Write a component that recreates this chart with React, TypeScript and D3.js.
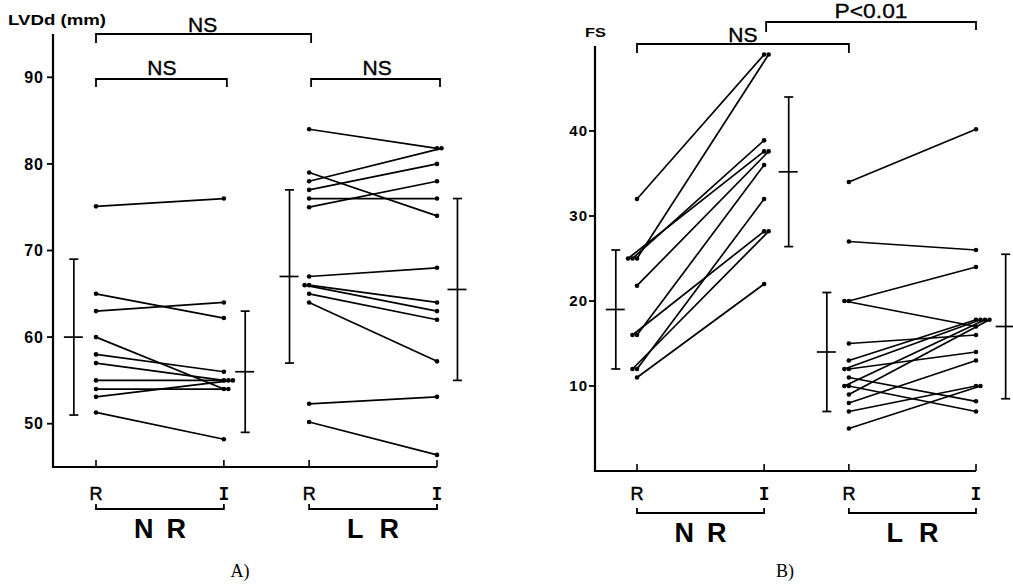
import React from "react";
import * as d3 from "d3";

// ---------- data ----------
const groupNames = ["N R", "L R"];
const timeLabels = ["R", "I"];

// LVDd (mm): paired values, rest (R) -> intervention (I)
const lvddNR_R = [75.1, 65, 63, 60, 58, 57, 55, 54, 53.1, 51.3];
const lvddNR_I = [76, 62.2, 64, 54, 56, 55, 55, 54, 55, 48.2];
const lvddLR_R = [84, 79, 78, 77, 76, 75, 67, 66, 66, 65, 64, 52.3, 50.2];
const lvddLR_I = [81.8, 74, 81.8, 80, 76, 78, 68, 64, 63, 62, 57.2, 53.1, 46.4];

// FS (%)
const fsNR_R = [32, 25, 25, 25, 21.8, 16, 16, 12, 12, 11];
const fsNR_I = [49, 49, 38.9, 37.6, 37.6, 36, 28.2, 32, 28.2, 22];
const fsLR_R = [34, 27, 20, 20, 15, 13, 12, 12, 11, 10, 10, 9, 8, 7, 5];
const fsLR_I = [40.2, 26, 24, 17, 16, 17.8, 14, 17.8, 8.2, 7, 17.8, 17.8, 13, 10, 10];

// mean and SD: NR-R, NR-I, LR-R, LR-I
const lvddMeans = [60, 56, 67, 65.5];
const lvddSDs = [9, 7, 10, 10.5];
const fsMeans = [19, 35.2, 14, 17];
const fsSDs = [7, 8.8, 7, 8.5];

const lvddYTicks = [50, 60, 70, 80, 90];
const fsYTicks = [10, 20, 30, 40];

// ---------- layout ----------
const SANS = "'Liberation Sans', Arial, Helvetica, sans-serif";
const slots = [0, 1.5, 2.5, 4]; // NR-R, NR-I, LR-R, LR-I

type PanelCfg = {
  y: d3.ScaleLinear<number, number>;
  x: d3.ScaleLinear<number, number>;
  axisX: number;
  yTicks: number[];
  pairs: [number[], number[]][];
  means: number[];
  sds: number[];
  statOffsets: number[];
  yTitle: string;
  yTitleX: number;
  yTitleY: number;
  yTitleLen: number;
  yTitleSize: number;
  labelGap: number;
  tickFont: number;
  groupBracketY: number;
  letter: string;
  letterX: number;
};

const panels: PanelCfg[] = [
  {
    y: d3.scaleLinear().domain([45, 95]).range([467, 34]),
    x: d3.scaleLinear().domain([0, 4]).range([96, 437]),
    axisX: 53,
    yTicks: lvddYTicks,
    pairs: [
      [lvddNR_R, lvddNR_I],
      [lvddLR_R, lvddLR_I],
    ],
    means: lvddMeans,
    sds: lvddSDs,
    statOffsets: [-0.26, 0.25, -0.23, 0.24],
    yTitle: "LVDd (mm)",
    yTitleX: 8,
    yTitleY: 25,
    yTitleLen: 98,
    yTitleSize: 15,
    labelGap: 9,
    tickFont: 16,
    groupBracketY: 509,
    letter: "A)",
    letterX: 240,
  },
  {
    y: d3.scaleLinear().domain([0, 50]).range([471, 46]),
    x: d3.scaleLinear().domain([0, 4]).range([637, 976]),
    axisX: 595,
    yTicks: fsYTicks,
    pairs: [
      [fsNR_R, fsNR_I],
      [fsLR_R, fsLR_I],
    ],
    means: fsMeans,
    sds: fsSDs,
    statOffsets: [-0.25, 0.29, -0.26, 0.35],
    yTitle: "FS",
    yTitleX: 585,
    yTitleY: 37,
    yTitleLen: 21,
    yTitleSize: 13,
    labelGap: 7,
    tickFont: 15,
    groupBracketY: 513,
    letter: "B)",
    letterX: 785,
  },
];

function dupOffsets(vals: number[], dir: number, step = 4.5) {
  const seen = new Map<number, number>();
  return vals.map((v) => {
    const k = seen.get(v) ?? 0;
    seen.set(v, k + 1);
    return dir * k * step;
  });
}

function Bracket({ x1, x2, y, leg1, leg2, down = true }: any) {
  const s = down ? 1 : -1;
  return (
    <path
      d={`M${x1},${y + s * leg1}V${y}H${x2}V${y + s * leg2}`}
      fill="none"
      stroke="#000"
      strokeWidth={1.8}
    />
  );
}

function Panel({ p }: { p: PanelCfg }) {
  const { x, y } = p;
  const [y0, y1] = y.range();
  const xEnd = x(4);
  const elems: React.ReactNode[] = [];

  // paired lines
  p.pairs.forEach(([rv, iv], g) => {
    const xr = x(slots[g * 2]);
    const xi = x(slots[g * 2 + 1]);
    const offR = dupOffsets(rv, -1);
    const offI = dupOffsets(iv, 1);
    rv.forEach((v, i) => {
      const ax = xr + offR[i];
      const bx = xi + offI[i];
      elems.push(
        <line key={`l${g}-${i}`} x1={ax} y1={y(v)} x2={bx} y2={y(iv[i])} stroke="#000" strokeWidth={1.7} />
      );
      elems.push(<circle key={`a${g}-${i}`} cx={ax} cy={y(v)} r={2.3} fill="#000" />);
      elems.push(<circle key={`b${g}-${i}`} cx={bx} cy={y(iv[i])} r={2.3} fill="#000" />);
    });
  });

  // mean +- SD bars
  p.means.forEach((m, i) => {
    const cx = x(slots[i] + p.statOffsets[i]);
    const top = y(m + p.sds[i]);
    const bot = y(m - p.sds[i]);
    elems.push(
      <g key={`s${i}`} stroke="#000" strokeWidth={1.7}>
        <line x1={cx} x2={cx} y1={top} y2={bot} />
        <line x1={cx - 4.5} x2={cx + 4.5} y1={top} y2={top} />
        <line x1={cx - 4.5} x2={cx + 4.5} y1={bot} y2={bot} />
        <line x1={cx - 10} x2={cx + 9} y1={y(m)} y2={y(m)} />
      </g>
    );
  });

  return (
    <g>
      {/* axes */}
      <path d={`M${p.axisX},${y1}V${y0}H${xEnd}`} fill="none" stroke="#000" strokeWidth={2.2} />
      {p.yTicks.map((t) => (
        <g key={`t${t}`}>
          <line x1={p.axisX - 6} x2={p.axisX} y1={y(t)} y2={y(t)} stroke="#000" strokeWidth={1.8} />
          <text
            x={p.axisX - p.labelGap}
            y={y(t)}
            dy="0.36em"
            textAnchor="end"
            fontFamily={SANS}
            fontWeight="bold"
            fontSize={p.tickFont}
            letterSpacing={1}
          >
            {t}
          </text>
        </g>
      ))}
      {slots.map((s, i) => (
        <line key={`xt${i}`} x1={x(s)} x2={x(s)} y1={y0} y2={y0 - 7} stroke="#000" strokeWidth={1.6} />
      ))}
      <text
        x={p.yTitleX}
        y={p.yTitleY}
        fontFamily={SANS}
        fontWeight="bold"
        fontSize={p.yTitleSize}
        textLength={p.yTitleLen}
        lengthAdjust="spacingAndGlyphs"
      >
        {p.yTitle}
      </text>

      {/* x category labels */}
      {slots.map((s, i) => {
        const lab = timeLabels[i % 2];
        return lab === "I" ? (
          <text
            key={`xl${i}`}
            x={x(s)}
            y={500}
            textAnchor="middle"
            fontFamily="'DejaVu Sans Mono', monospace"
            fontWeight="bold"
            fontSize={18}
          >
            {lab}
          </text>
        ) : (
          <text
            key={`xl${i}`}
            x={x(s)}
            y={500}
            textAnchor="middle"
            fontFamily={SANS}
            fontSize={18}
            stroke="#000"
            strokeWidth={0.5}
          >
            {lab}
          </text>
        );
      })}
      {groupNames.map((gName, g) => {
        const a = x(slots[g * 2]);
        const b = x(slots[g * 2 + 1]);
        return (
          <g key={`gn${g}`}>
            <Bracket x1={a} x2={b} y={p.groupBracketY} leg1={5} leg2={5} down={false} />
            <text
              x={(a + b) / 2}
              y={p.groupBracketY + 29}
              textAnchor="middle"
              fontFamily={SANS}
              fontWeight="bold"
              fontSize={27}
              textLength={52}
              lengthAdjust="spacing"
            >
              {gName}
            </text>
          </g>
        );
      })}
      <text
        x={p.letterX}
        y={577}
        textAnchor="middle"
        fontFamily="'Liberation Serif', 'DejaVu Serif', serif"
        fontSize={18}
      >
        {p.letter}
      </text>
      {elems}
    </g>
  );
}

function NS({ x, y, label }: { x: number; y: number; label: string }) {
  return (
    <text
      x={x}
      y={y}
      textAnchor="middle"
      fontFamily={SANS}
      fontSize={21}
      stroke="#000"
      strokeWidth={0.4}
    >
      {label}
    </text>
  );
}

export default function App() {
  const [pa, pb] = panels;
  const ax = pa.x;
  const bx = pb.x;
  return (
    <svg
      width={1013}
      height={585}
      viewBox="0 0 1013 585"
      style={{ position: "absolute", left: 0, top: 0, background: "#fff" }}
    >
      <rect width={1013} height={585} fill="#fff" />
      <Panel p={pa} />
      <Panel p={pb} />

      {/* significance brackets, panel A */}
      <Bracket x1={ax(0)} x2={ax(2.5) + 2} y={34} leg1={9} leg2={9} />
      <NS x={(ax(0) + ax(2.5)) / 2} y={32} label="NS" />
      <Bracket x1={ax(0)} x2={ax(1.5) + 3} y={79} leg1={8} leg2={8} />
      <NS x={(ax(0) + ax(1.5)) / 2 + 2} y={75} label="NS" />
      <Bracket x1={ax(2.5) + 2} x2={ax(4) + 3} y={79} leg1={8} leg2={8} />
      <NS x={(ax(2.5) + ax(4)) / 2 + 4} y={75} label="NS" />

      {/* significance brackets, panel B */}
      <Bracket x1={bx(0)} x2={bx(2.5)} y={44} leg1={9} leg2={9} />
      <NS x={(bx(0) + bx(2.5)) / 2} y={42} label="NS" />
      <Bracket x1={bx(1.5) + 2} x2={bx(4)} y={22} leg1={10} leg2={8} />
      <text
        x={(bx(1.5) + bx(4)) / 2 + 1}
        y={18}
        textAnchor="middle"
        fontFamily={SANS}
        fontSize={20}
        stroke="#000"
        strokeWidth={0.3}
        textLength={73}
        lengthAdjust="spacingAndGlyphs"
      >
        P&lt;0.01
      </text>
    </svg>
  );
}
